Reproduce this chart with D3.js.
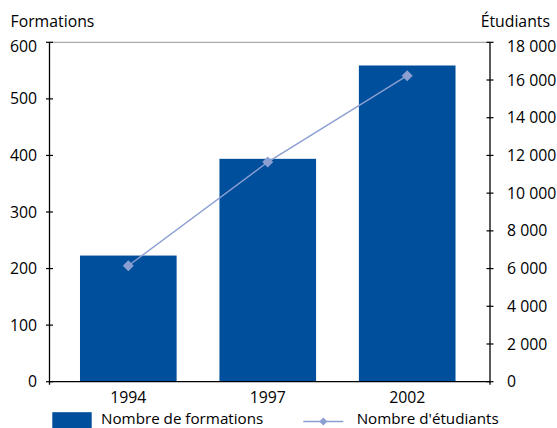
<!DOCTYPE html>
<html><head><meta charset="utf-8">
<script src="https://cdn.jsdelivr.net/npm/d3@7"></script>
<style>body{margin:0;background:#fff}svg{display:block;font-family:"Open Sans",sans-serif}</style>
</head><body><svg id="c" width="557" height="428"></svg>
<script>
const categories = ["1994","1997","2002"];
const formations = [223, 394, 559];
const etudiants = [6150, 11650, 16230];
const leftTicks = [0,100,200,300,400,500,600];
const rightTicks = [0,2000,4000,6000,8000,10000,12000,14000,16000,18000];

const svg = d3.select("#c");
const L = 49.5, R = 490, T = 42.3, B = 381.7;
const x = d3.scaleBand().domain(categories).range([L, 486]).paddingInner(0.307).paddingOuter(0.2186);
const yL = d3.scaleLinear().domain([0,600]).range([B, T]);
const yR = d3.scaleLinear().domain([0,18000]).range([B, T]);
const barColor = "#004f9c", lineColor = "#8c9fd2";
const fs = "15.8px", tc = "#000";

// top border
svg.append("line").attr("x1",L).attr("x2",R).attr("y1",T).attr("y2",T).attr("stroke","#aaa").attr("stroke-width",1.2);

// bars
svg.selectAll("rect.bar").data(formations).join("rect").attr("class","bar")
  .attr("x",(d,i)=>x(categories[i])).attr("width",x.bandwidth())
  .attr("y",d=>yL(d)).attr("height",d=>yL(0)-yL(d)).attr("fill",barColor);

// bottom axis line
svg.append("line").attr("x1",L).attr("x2",R).attr("y1",B).attr("y2",B).attr("stroke","#000").attr("stroke-width",1.3);

// left axis
const gl = svg.append("g");
gl.append("line").attr("x1",L).attr("x2",L).attr("y1",T).attr("y2",B+3).attr("stroke","#000").attr("stroke-width",1.3);
leftTicks.forEach(t=>{
  gl.append("line").attr("x1",L-3.5).attr("x2",L+3.5).attr("y1",yL(t)).attr("y2",yL(t)).attr("stroke","#000").attr("stroke-width",1.2);
  gl.append("text").attr("x",37).attr("y",yL(t)+(t===600?4.5:0)).attr("dy","0.35em").attr("text-anchor","end")
    .style("font-size",fs).attr("fill",tc).text(t);
});
// right axis
const gr = svg.append("g");
gr.append("line").attr("x1",R).attr("x2",R).attr("y1",T).attr("y2",B+3).attr("stroke","#000").attr("stroke-width",1.3);
const fmt = v => d3.format(",")(v).replace(/,/g," ");
rightTicks.forEach(t=>{
  gr.append("line").attr("x1",R-3.5).attr("x2",R+3.5).attr("y1",yR(t)).attr("y2",yR(t)).attr("stroke","#000").attr("stroke-width",1.2);
  gr.append("text").attr("x",507).attr("y",yR(t)+(t===18000?4.5:0)).attr("dy","0.35em").attr("text-anchor","start")
    .style("font-size",fs).attr("fill",tc).text(fmt(t));
});

// x labels
categories.forEach(c=>{
  svg.append("text").attr("x",x(c)+x.bandwidth()/2).attr("y",402.5).attr("text-anchor","middle")
    .style("font-size",fs).attr("fill",tc).text(c);
});

// axis titles
svg.append("text").attr("x",10.5).attr("y",27).style("font-size",fs).attr("fill",tc).text("Formations");
svg.append("text").attr("x",550).attr("y",27).attr("text-anchor","end").style("font-size",fs).attr("fill",tc).text("Étudiants");

// line
const line = d3.line().x((d,i)=>x(categories[i])+x.bandwidth()/2).y(d=>yR(d));
svg.append("path").datum(etudiants).attr("d",line).attr("fill","none").attr("stroke",lineColor).attr("stroke-width",1.4);
const diamond = d3.symbol().type(d3.symbolSquare).size(60);
svg.selectAll("path.pt").data(etudiants).join("path").attr("class","pt")
  .attr("d",diamond).attr("fill",lineColor)
  .attr("transform",(d,i)=>`translate(${x(categories[i])+x.bandwidth()/2},${yR(d)}) rotate(45)`);

// legend
const lfs = "15.2px";
svg.append("rect").attr("x",52.3).attr("y",412.2).attr("width",39.4).attr("height",17).attr("fill",barColor);
svg.append("text").attr("x",101).attr("y",423.5).style("font-size",lfs).attr("fill",tc).text("Nombre de formations");
svg.append("line").attr("x1",303.3).attr("x2",343.3).attr("y1",421.5).attr("y2",421.5).attr("stroke",lineColor).attr("stroke-width",1.4);
svg.append("path").attr("d",d3.symbol().type(d3.symbolSquare).size(32)).attr("fill",lineColor)
  .attr("transform","translate(323.3,421.5) rotate(45)");
svg.append("text").attr("x",356.7).attr("y",423.5).style("font-size",lfs).attr("fill",tc).text("Nombre d'étudiants");
</script></body></html>
